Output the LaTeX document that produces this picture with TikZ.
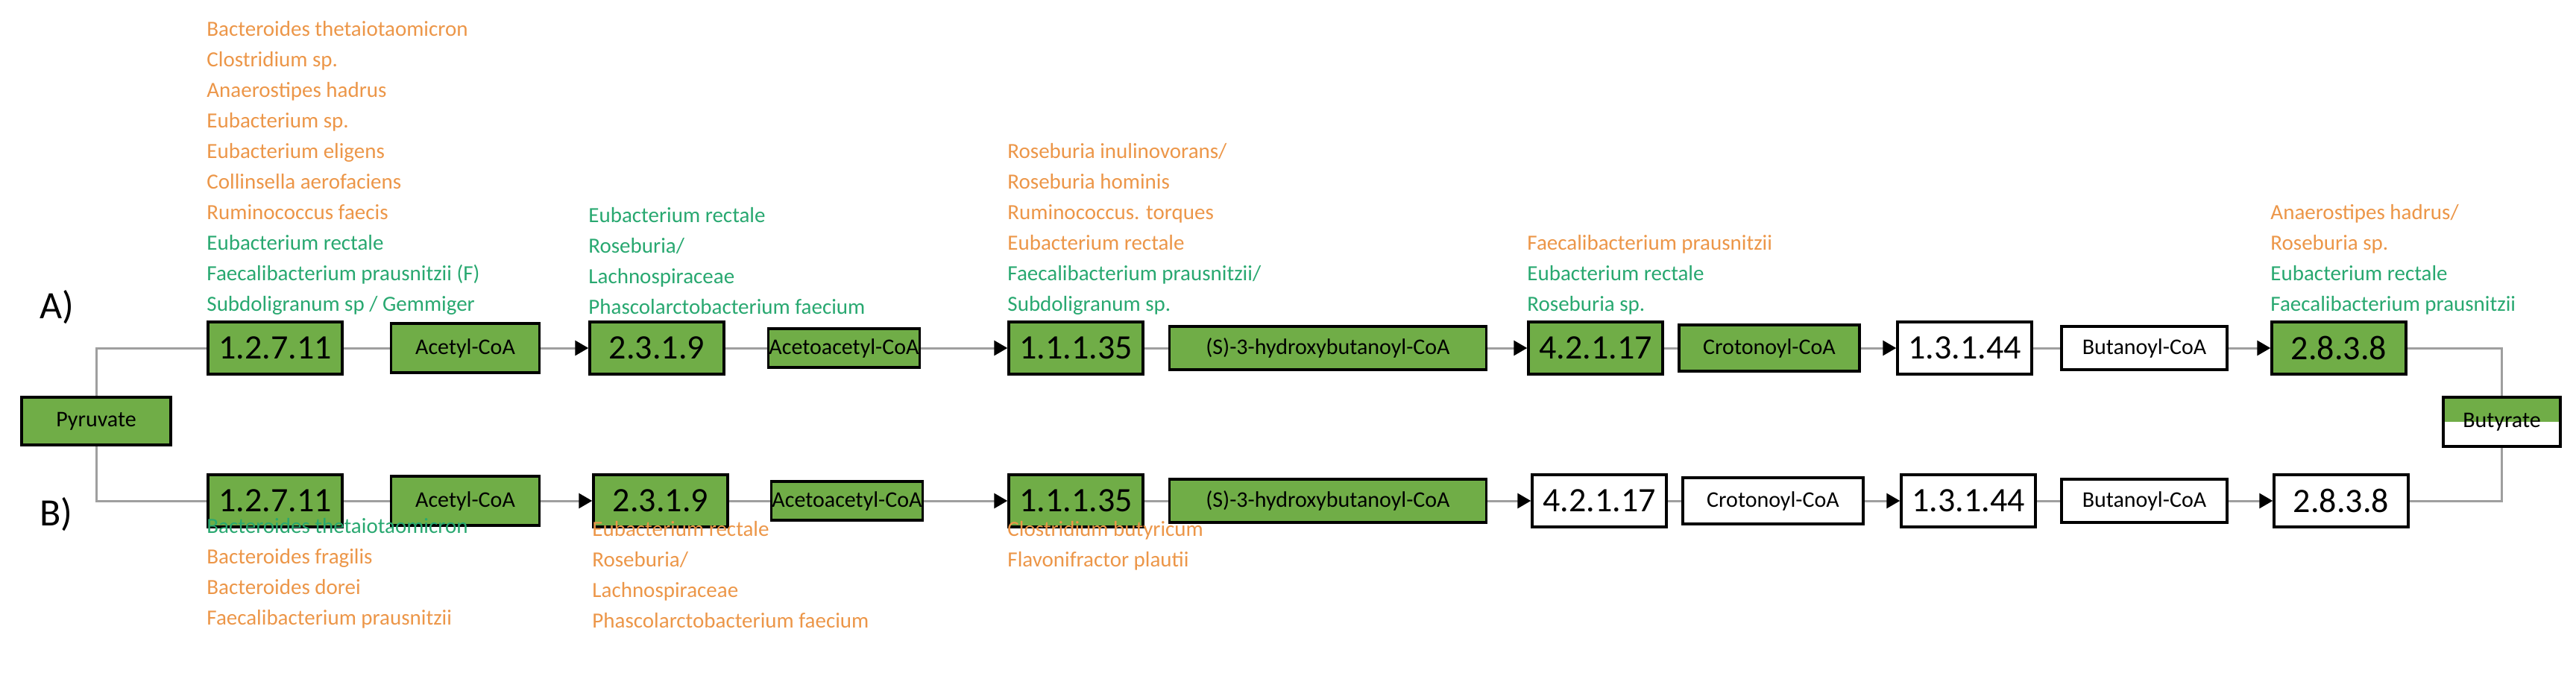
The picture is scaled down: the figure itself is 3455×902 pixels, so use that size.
\documentclass[tikz,border=0pt]{standalone}
\usepackage{fontspec}
\setmainfont{Carlito}
\usetikzlibrary{arrows.meta,positioning}
\definecolor{orT}{RGB}{236,150,72}
\definecolor{grT}{RGB}{40,168,112}
\definecolor{boxG}{RGB}{112,173,71}
\begin{document}
\begin{tikzpicture}[x=1pt,y=-1pt,
  bx/.style={draw=black,line width=3.5pt,inner sep=0pt,anchor=center},
  num/.style={bx,minimum width=180pt,minimum height=70pt,font=\fontsize{46}{50}\selectfont},
  met/.style={bx,font=\fontsize{30}{34}\selectfont},
  gf/.style={fill=boxG},
  wf/.style={fill=white},
  ln/.style={draw=gray!75,line width=3pt},
  ar/.style={ln,-{Triangle[length=18pt,width=20pt,color=black]}},
  sp/.style={align=left,inner sep=0pt,font=\fontsize{29}{41}\selectfont},
]
\useasboundingbox (0,0) rectangle (3455,902);
% labels
\node[font=\fontsize{52}{56}\selectfont,anchor=west] (la) at (50,412) {A)};
\node[font=\fontsize{52}{56}\selectfont,anchor=west] (lb) at (50,690) {B)};
% pyruvate / butyrate
\node[met,gf,minimum width=200pt,minimum height=64pt] (pyr) at (129,565) {Pyruvate};
\fill[boxG] (3277,533) rectangle (3434,566);
\node[met,minimum width=157pt,minimum height=66pt] (but) at (3355.5,566) {Butyrate};
% row A
\def\ya{467}
\node[num,gf] (a1) at (369,\ya) {1.2.7.11};
\node[met,gf,minimum width=199pt,minimum height=66pt] (a2) at (624,\ya) {Acetyl-CoA};
\node[num,gf] (a3) at (881,\ya) {2.3.1.9};
\node[met,gf,minimum width=203pt,minimum height=52pt] (a4) at (1132,\ya) {Acetoacetyl-CoA};
\node[num,gf] (a5) at (1443,\ya) {1.1.1.35};
\node[met,gf,minimum width=425pt,minimum height=58pt] (a6) at (1781,\ya) {(S)-3-hydroxybutanoyl-CoA};
\node[num,gf] (a7) at (2140,\ya) {4.2.1.17};
\node[met,gf,minimum width=242pt,minimum height=62pt] (a8) at (2373,\ya) {Crotonoyl-CoA};
\node[num,wf] (a9) at (2635,\ya) {1.3.1.44};
\node[met,wf,minimum width=222pt,minimum height=58pt] (a10) at (2876,\ya) {Butanoyl-CoA};
\node[num,gf] (a11) at (3137,\ya) {2.8.3.8};
% row B
\def\yb{672}
\node[num,gf] (b1) at (369,\yb) {1.2.7.11};
\node[met,gf,minimum width=199pt,minimum height=66pt] (b2) at (624,\yb) {Acetyl-CoA};
\node[num,gf] (b3) at (886,\yb) {2.3.1.9};
\node[met,gf,minimum width=203pt,minimum height=52pt] (b4) at (1136,\yb) {Acetoacetyl-CoA};
\node[num,gf] (b5) at (1443,\yb) {1.1.1.35};
\node[met,gf,minimum width=425pt,minimum height=58pt] (b6) at (1781,\yb) {(S)-3-hydroxybutanoyl-CoA};
\node[num,wf] (b7) at (2145,\yb) {4.2.1.17};
\node[met,wf,minimum width=242pt,minimum height=62pt] (b8) at (2378,\yb) {Crotonoyl-CoA};
\node[num,wf] (b9) at (2640,\yb) {1.3.1.44};
\node[met,wf,minimum width=222pt,minimum height=58pt] (b10) at (2876,\yb) {Butanoyl-CoA};
\node[num,wf] (b11) at (3140,\yb) {2.8.3.8};
% connectors
\begin{scope}[on background layer/.style={}]
\draw[ln] (pyr.north) |- (a1.west);
\draw[ln] (pyr.south) |- (b1.west);
\draw[ln] (a11.east) -| (but.north);
\draw[ln] (b11.east) -| (but.south);
\end{scope}
\foreach \r in {a,b}{
  \draw[ln] (\r1) -- (\r2);
  \draw[ar] (\r2) -- (\r3);
  \draw[ln] (\r3) -- (\r4);
  \draw[ar] (\r4) -- (\r5);
  \draw[ln] (\r5) -- (\r6);
  \draw[ar] (\r6) -- (\r7);
  \draw[ln] (\r7) -- (\r8);
  \draw[ar] (\r8) -- (\r9);
  \draw[ln] (\r9) -- (\r10);
  \draw[ar] (\r10) -- (\r11);
}
% species A
\node[sp,anchor=south west] (s1) at ([yshift=8pt]a1.north west) {\color{orT}Bacteroides thetaiotaomicron\\\color{orT}Clostridium sp.\\\color{orT}Anaerostipes hadrus\\\color{orT}Eubacterium sp.\\\color{orT}Eubacterium eligens\\\color{orT}Collinsella aerofaciens\\\color{orT}Ruminococcus faecis\\\color{grT}Eubacterium rectale\\\color{grT}Faecalibacterium prausnitzii (F)\\\color{grT}Subdoligranum sp / Gemmiger};
\node[sp,anchor=south west] (s2) at ([yshift=8pt]a3.north west) {\color{grT}Eubacterium rectale\\\color{grT}Roseburia/\\\color{grT}Lachnospiraceae\\\color{grT}Phascolarctobacterium faecium};
\node[sp,anchor=south west] (s3) at ([yshift=8pt]a5.north west) {\color{orT}Roseburia inulinovorans/\\\color{orT}Roseburia hominis\\\color{orT}Ruminococcus. torques\\\color{orT}Eubacterium rectale\\\color{grT}Faecalibacterium prausnitzii/\\\color{grT}Subdoligranum sp.};
\node[sp,anchor=south west] (s4) at ([yshift=8pt]a7.north west) {\color{orT}Faecalibacterium prausnitzii\\\color{grT}Eubacterium rectale\\\color{grT}Roseburia sp.};
\node[sp,anchor=south west] (s5) at ([yshift=8pt]a11.north west) {\color{orT}Anaerostipes hadrus/\\\color{orT}Roseburia sp.\\\color{grT}Eubacterium rectale\\\color{grT}Faecalibacterium prausnitzii};
% species B
\node[sp,anchor=north west] (t1) at ([yshift=14pt]b1.south west) {\color{grT}Bacteroides thetaiotaomicron\\\color{orT}Bacteroides fragilis\\\color{orT}Bacteroides dorei\\\color{orT}Faecalibacterium prausnitzii};
\node[sp,anchor=north west] (t2) at ([yshift=10pt]b3.south west) {\color{orT}Eubacterium rectale\\\color{orT}Roseburia/\\\color{orT}Lachnospiraceae\\\color{orT}Phascolarctobacterium faecium};
\node[sp,anchor=north west] (t3) at ([yshift=10pt]b5.south west) {\color{orT}Clostridium butyricum\\\color{orT}Flavonifractor plautii};
\end{tikzpicture}
\end{document}
